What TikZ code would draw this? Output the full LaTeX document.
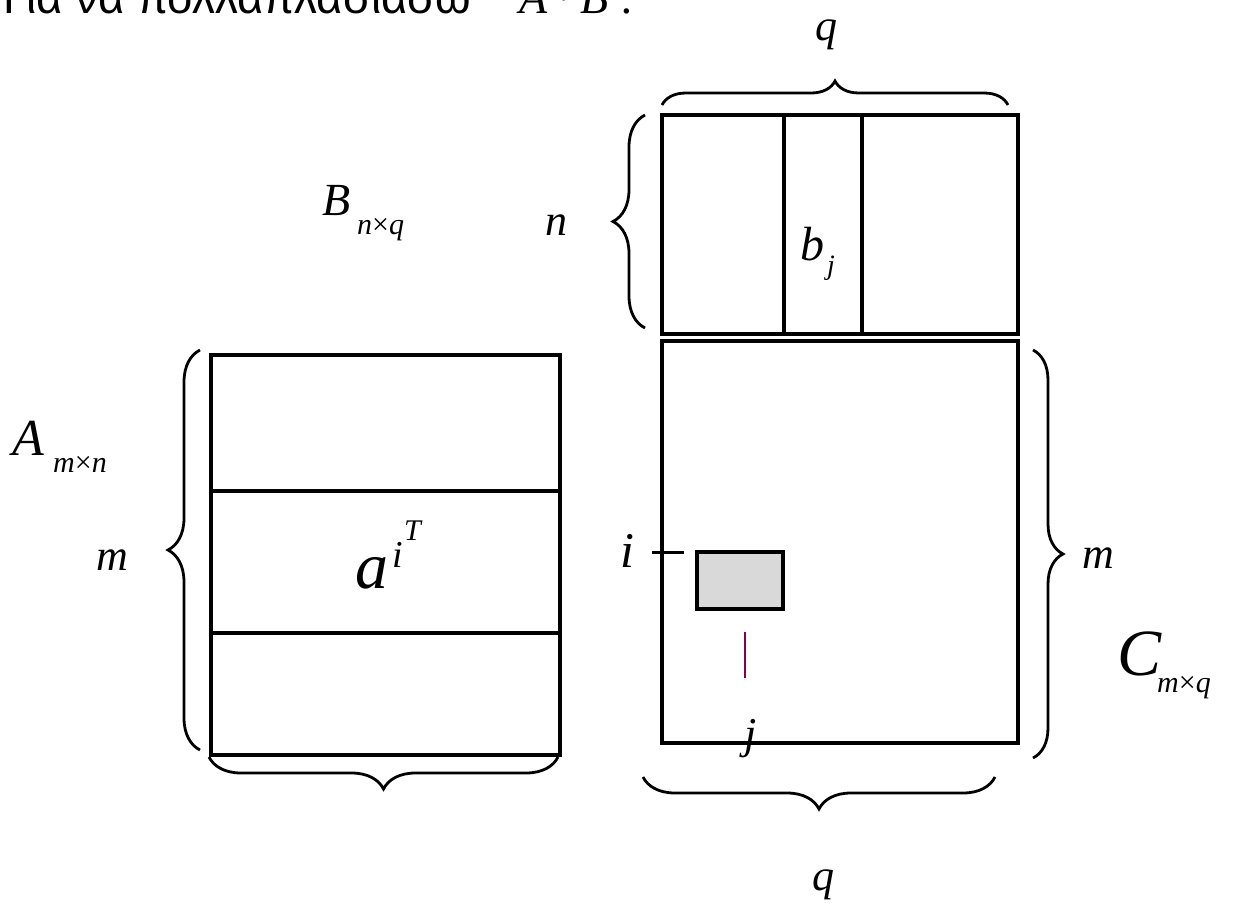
\documentclass[tikz,border=0pt]{standalone}
\usepackage{fontspec}
\setmainfont{Liberation Serif}
\newfontfamily\arialf{Liberation Sans}
\usetikzlibrary{decorations.pathreplacing}
\newcommand{\fs}[1]{\fontsize{#1}{#1}\selectfont}
\tikzset{
  mat/.style={draw, line width=3.5pt, inner sep=0pt, anchor=north west},
  sep/.style={line width=3.5pt},
  brc/.style={decorate, decoration={brace, amplitude=#1}, line width=2.8pt},
  lab/.style={anchor=base west, inner sep=0pt},
}
\begin{document}
\begin{tikzpicture}[x=1pt,y=-1pt]
\clip (0,0) rectangle (1236,919);
\fill[white] (0,0) rectangle (1236,919);
% title
\node[lab] (title) at (3,13) {\arialf\fs{45.5}Για να πολλαπλασιάσω};
\node[lab] (AB) at (519,13) {\fs{46}\textit{A}\hspace{9pt}·\hspace{9pt}\textit{B}\hspace{12pt}:};
% matrices
\node[mat, minimum width=356pt, minimum height=219pt] (B) at (660,113) {};
\node[mat, minimum width=356pt, minimum height=402pt] (C) at (660,339) {};
\node[mat, minimum width=349pt, minimum height=400pt] (A) at (209,353) {};
% B columns
\coordinate (b1t) at (784,113); \coordinate (b1b) at (784,332);
\coordinate (b2t) at (862,113); \coordinate (b2b) at (862,332);
\draw[sep] (b1t) -- (b1b);
\draw[sep] (b2t) -- (b2b);
% A rows
\coordinate (a1l) at (209,491); \coordinate (a1r) at (558,491);
\coordinate (a2l) at (209,633); \coordinate (a2r) at (558,633);
\draw[sep] (a1l) -- (a1r);
\draw[sep] (a2l) -- (a2r);
% C cell
\node[draw, line width=3.5pt, fill={rgb,255:red,217;green,217;blue,217}, inner sep=0pt, anchor=north west, minimum width=86pt, minimum height=57pt] (cell) at (695,550) {};
\coordinate (ti1) at (652,552); \coordinate (ti2) at (684,552);
\draw[line width=3pt] (ti1) -- (ti2);
\coordinate (pj1) at (745,632); \coordinate (pj2) at (745,678);
\draw[line width=1.4pt, color={rgb,255:red,128;green,0;blue,90}] (pj1) -- (pj2);
% braces
\coordinate (qt1) at (662,105); \coordinate (qt2) at (1008,105);
\draw[brc=24pt] (qt1) -- (qt2);
\coordinate (nb1) at (645,328); \coordinate (nb2) at (645,115);
\draw[brc=32pt] (nb1) -- (nb2);
\coordinate (ma1) at (200,750); \coordinate (ma2) at (200,350);
\draw[brc=32pt] (ma1) -- (ma2);
\coordinate (na1) at (558,757); \coordinate (na2) at (209,757);
\draw[brc=32pt] (na1) -- (na2);
\coordinate (mc1) at (1033,350); \coordinate (mc2) at (1033,758);
\draw[brc=30pt] (mc1) -- (mc2);
\coordinate (qc1) at (995,777); \coordinate (qc2) at (643,777);
\draw[brc=32pt] (qc1) -- (qc2);
% labels
\node[lab] (Bl) at (322,215) {\fs{46}\textit{B}};
\node[lab] (Bs) at (357,234) {\fs{30}\textit{n}×\textit{q}};
\node[lab] (Al) at (12,455) {\fs{52}\textit{A}};
\node[lab] (As) at (53,472) {\fs{30}\textit{m}×\textit{n}};
\node[lab] (Cl) at (1117,675) {\fs{66}\textit{C}};
\node[lab] (Cs) at (1157,692) {\fs{30}\textit{m}×\textit{q}};
\node[lab] (al) at (355,588) {\fs{66}\textit{a}};
\node[lab] (ai) at (392,567) {\fs{38}\textit{i}};
\node[lab] (aT) at (404,540) {\fs{30}\textit{T}};
\node[lab] (bl) at (800,260) {\fs{48}\textit{b}};
\node[lab] (bj) at (827,274) {\fs{28}\textit{j}};
\node[lab] (il) at (620,567) {\fs{50}\textit{i}};
\node[lab] (jl) at (744,748) {\fs{44}\textit{j}};
\node[lab] (qtop) at (815,40) {\fs{44}\textit{q}};
\node[lab] (qbot) at (812,890) {\fs{44}\textit{q}};
\node[lab] (nl) at (545,235) {\fs{44}\textit{n}};
\node[lab] (ml) at (96,570) {\fs{44}\textit{m}};
\node[lab] (mr) at (1082,568) {\fs{44}\textit{m}};
\end{tikzpicture}
\end{document}
